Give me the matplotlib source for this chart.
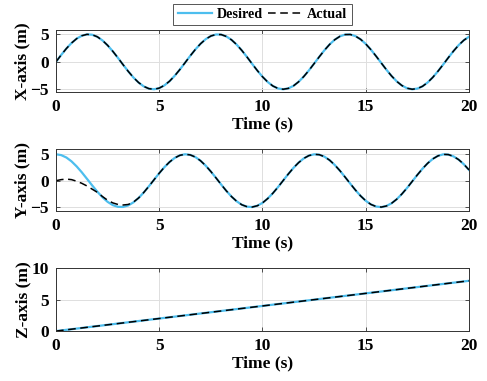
import numpy as np
import matplotlib
matplotlib.use("Agg")
import matplotlib.pyplot as plt

# time grid (s) for the x / y traces
t = np.arange(81) * 0.25

# X-axis position (m), desired and actual overlap
x_desired = [0.00, 1.24, 2.40, 3.41, 4.21, 4.74, 4.99, 4.92, 4.55, 3.89, 2.99, 1.91, 0.71,
             -0.54, -1.75, -2.86, -3.78, -4.48, -4.89, -5.00, -4.79, -4.29, -3.53, -2.54,
             -1.40, -0.17, 1.08, 2.25, 3.28, 4.12, 4.69, 4.97, 4.95, 4.61, 3.99, 3.12, 2.06,
             0.87, -0.38, -1.60, -2.72, -3.67, -4.40, -4.85, -5.00, -4.84, -4.38, -3.64,
             -2.68, -1.56, -0.33, 0.91, 2.10, 3.16, 4.02, 4.63, 4.95, 4.97, 4.67, 4.09, 3.25,
             2.21, 1.03, -0.21, -1.44, -2.58, -3.56, -4.32, -4.81, -5.00, -4.88, -4.46, -3.76,
             -2.82, -1.71, -0.50, 0.75, 1.95, 3.03, 3.92, 4.56]
x_actual = list(x_desired)

# Y-axis position (m)
y_desired = [5.00, 4.84, 4.39, 3.66, 2.70, 1.58, 0.35, -0.89, -2.08, -3.14, -4.01, -4.62,
             -4.95, -4.97, -4.68, -4.10, -3.27, -2.23, -1.05, 0.19, 1.42, 2.56, 3.54, 4.31,
             4.80, 5.00, 4.88, 4.47, 3.77, 2.84, 1.73, 0.52, -0.73, -1.93, -3.01, -3.90,
             -4.56, -4.92, -4.99, -4.74, -4.20, -3.39, -2.38, -1.22, 0.02, 1.26, 2.42, 3.42,
             4.22, 4.75, 4.99, 4.92, 4.54, 3.88, 2.97, 1.89, 0.68, -0.56, -1.77, -2.88, -3.80,
             -4.49, -4.89, -5.00, -4.79, -4.28, -3.51, -2.52, -1.38, -0.14, 1.10, 2.27, 3.30,
             4.13, 4.70, 4.98, 4.94, 4.60, 3.98, 3.11, 2.04]
# actual starts at 0 and catches up by ~4 s
y_actual_start = [0.00, 0.20, 0.30, 0.20, -0.10, -0.50, -1.00, -1.60, -2.20, -3.00, -3.70,
                  -4.20, -4.50, -4.60, -4.50, -4.05]
y_actual = y_actual_start + y_desired[len(y_actual_start):]

# Z-axis position (m)
t_z = [0, 5, 10, 15, 20]
z_desired = [0.0, 2.0, 4.0, 6.0, 8.0]
z_actual = [0.0, 2.0, 4.0, 6.0, 8.0]

xticks = [0, 5, 10, 15, 20]

plt.rcParams['font.family'] = ['Liberation Serif', 'DejaVu Serif']
plt.rcParams['font.weight'] = 'bold'
plt.rcParams['font.size'] = 12.5

blue = '#4DBEEE'
fig = plt.figure(figsize=(4.87, 3.81), dpi=100)

positions = [[0.115, 0.7585, 0.848, 0.163],
             [0.115, 0.446, 0.848, 0.163],
             [0.115, 0.131, 0.848, 0.165]]
series = [(t, x_desired, x_actual, 'X-axis (m)', (-5.5, 5.8), [-5, 0, 5]),
          (t, y_desired, y_actual, 'Y-axis (m)', (-5.75, 6.0), [-5, 0, 5]),
          (t_z, z_desired, z_actual, 'Z-axis (m)', (0, 10), [0, 5, 10])]

axes = []
for pos, (tt, des, act, ylab, ylim, yticks) in zip(positions, series):
    ax = fig.add_axes(pos)
    ax.plot(tt, des, color=blue, lw=1.6, label='Desired')
    ax.plot(tt, act, color='black', lw=1.1, ls=(0, (5, 3)), label='Actual')
    ax.set_xlim(0, 20)
    ax.set_ylim(*ylim)
    ax.set_xticks(xticks)
    ax.set_yticks(yticks)
    ax.set_xlabel('Time (s)', fontweight='bold', labelpad=1)
    ax.set_ylabel(ylab, fontweight='bold', labelpad=0)
    ax.grid(True, color='#dedede', lw=0.7)
    ax.tick_params(direction='in', top=True, right=True, length=3, width=0.6,
                   color='#333333', pad=5)
    for s in ax.spines.values():
        s.set_color('#333333')
        s.set_linewidth(0.7)
    axes.append(ax)

leg = axes[0].legend(loc='lower center', bbox_to_anchor=(0.5, 1.075), ncol=2,
                     fancybox=False, edgecolor='#555555', framealpha=1,
                     fontsize=10.2, handlelength=2.4, columnspacing=0.4, borderpad=0.3,
                     handletextpad=0.35, borderaxespad=0)
leg.get_frame().set_linewidth(0.7)

fig.savefig('out.png', dpi=100)
